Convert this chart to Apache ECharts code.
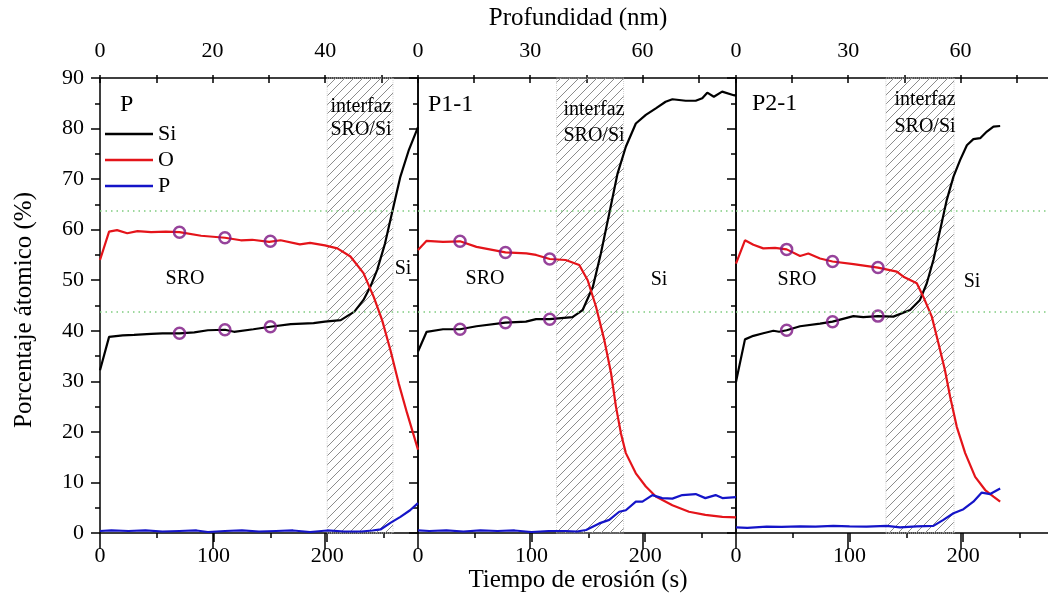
<!DOCTYPE html>
<html><head><meta charset="utf-8">
<script src="https://cdn.jsdelivr.net/npm/echarts@6/dist/echarts.min.js"></script>
<style>html,body{margin:0;padding:0;background:#fff}#c{width:1048px;height:597px}</style>
</head><body><div id="c"></div>
<script>
// ---------------- data ----------------
const panelNames = ['P', 'P1-1', 'P2-1'];
const legendNames = ['Si', 'O', 'P'];
const timeTicks = [0, 100, 200];
const timeMax = 280;
const depthMax = [56.5, 85, 85];
const depthMajor = [20, 30, 30];
const depthMinor = [10, 15, 15];
const hatchRanges = [[200, 258], [122, 181], [132, 192]];
const refLevels = [63.7, 43.8];

// Panel P
const p1SiT = [0, 8, 20, 30, 45, 55, 70, 83, 95, 110, 118, 135, 150, 168, 188, 198, 212, 224, 232, 238, 244, 251, 257, 264.5, 272, 280];
const p1Si  = [32.2, 38.8, 39.1, 39.2, 39.4, 39.5, 39.5, 39.7, 40.1, 40.2, 39.8, 40.3, 40.8, 41.3, 41.5, 41.8, 42.1, 43.8, 46.1, 48.7, 52.0, 57.3, 63.2, 70.5, 75.8, 80.3];
const p1OT  = [0, 8, 15, 24, 33, 45, 58, 70, 89, 110, 124, 134, 149, 159, 176, 185, 198, 209, 220.5, 232, 241, 248.4, 255.7, 263, 270.4, 280];
const p1O   = [54.0, 59.6, 59.9, 59.3, 59.7, 59.5, 59.6, 59.5, 58.8, 58.4, 57.9, 58.0, 57.6, 57.9, 57.1, 57.4, 56.9, 56.3, 54.7, 51.4, 46.7, 42.1, 36.2, 29.6, 23.7, 16.5];
const p1PT  = [0, 10, 25, 40, 55, 70, 85, 95, 110, 125, 140, 155, 170, 185, 200, 215, 230, 240, 247, 255.7, 264.5, 273, 280];
const p1P   = [0.4, 0.5, 0.4, 0.5, 0.3, 0.4, 0.5, 0.2, 0.4, 0.5, 0.3, 0.4, 0.5, 0.2, 0.5, 0.3, 0.3, 0.5, 0.7, 2.0, 3.2, 4.5, 5.9];
const p1MkT = [70, 110, 150];
const p1MkO = [59.5, 58.4, 57.7];
const p1MkSi = [39.5, 40.2, 40.8];

// Panel P1-1
const p2SiT = [0, 7.6, 22, 37, 51.5, 77, 95, 104, 116, 136, 145, 154, 161, 168.4, 175.7, 183, 191.8, 200.6, 209.4, 218, 224, 235.7, 244.5, 250.3, 254.7, 260.5, 267.8, 278, 280];
const p2Si  = [35.9, 39.8, 40.3, 40.3, 40.9, 41.6, 41.8, 42.3, 42.3, 42.7, 44.1, 48.7, 55.3, 63.2, 71.1, 76.4, 81.0, 82.7, 84.0, 85.3, 85.8, 85.5, 85.5, 86.0, 87.1, 86.3, 87.3, 86.6, 86.5];
const p2OT  = [0, 7.6, 22, 37, 51.5, 77, 95.4, 104, 116, 130, 142, 149.4, 156.7, 164, 170, 174.3, 178.7, 183, 191.8, 200.6, 209.4, 224, 238.6, 253, 268, 280];
const p2O   = [56.0, 57.8, 57.6, 57.7, 56.6, 55.5, 55.3, 55.0, 54.2, 54.0, 53.0, 50.0, 44.8, 38.2, 31.6, 25.0, 19.7, 15.8, 11.8, 9.2, 7.2, 5.5, 4.2, 3.6, 3.2, 3.1];
const p2PT  = [0, 10, 25, 40, 55, 70, 85, 100, 115, 130, 140, 148, 159.6, 168.4, 177.2, 183, 191.8, 197.6, 206.4, 215, 224, 232.7, 244.5, 253, 262, 268, 280];
const p2P   = [0.5, 0.4, 0.5, 0.3, 0.5, 0.4, 0.5, 0.2, 0.4, 0.4, 0.3, 0.6, 1.9, 2.6, 4.2, 4.5, 6.2, 6.2, 7.5, 6.9, 6.8, 7.5, 7.7, 6.9, 7.5, 6.9, 7.1];
const p2MkT = [37, 77, 116];
const p2MkO = [57.7, 55.5, 54.2];
const p2MkSi = [40.3, 41.6, 42.3];

// Panel P2-1
const p3SiT = [0, 7.9, 15.3, 24, 32.9, 38, 44.6, 56.4, 74, 85, 103.4, 112, 125, 138.6, 153.3, 162, 168, 173.8, 179.7, 185.6, 191.5, 197.4, 203.3, 209, 215, 220.9, 226.7, 232.6];
const p3Si  = [29.9, 38.3, 39.0, 39.5, 40.0, 39.8, 40.1, 40.9, 41.4, 41.8, 42.9, 42.7, 42.9, 42.8, 44.1, 46.1, 49.4, 54.0, 59.9, 65.9, 70.5, 73.8, 76.7, 77.9, 78.1, 79.4, 80.4, 80.5];
const p3OT  = [0, 7.9, 15.3, 24, 34.4, 44.6, 56.4, 63.7, 74, 85, 103.4, 125, 141.6, 147.4, 159.2, 165, 172.4, 178.3, 184, 188.5, 194.4, 201.8, 210.6, 219.4, 226.7, 232.6];
const p3O   = [53.3, 57.9, 57.0, 56.3, 56.4, 56.1, 54.8, 55.3, 54.3, 53.7, 53.2, 52.5, 51.7, 50.7, 49.4, 46.7, 42.8, 37.5, 32.2, 27.0, 21.0, 15.8, 11.1, 8.5, 7.2, 6.2];
const p3PT  = [0, 10, 27, 40, 56.4, 70, 85.7, 100, 115, 132.7, 144.5, 159.2, 173.8, 182.6, 191.5, 200.3, 209, 216.4, 223.8, 232.6];
const p3P   = [1.1, 1.0, 1.25, 1.2, 1.3, 1.25, 1.4, 1.3, 1.25, 1.4, 1.1, 1.3, 1.4, 2.6, 3.9, 4.7, 6.2, 8.0, 7.7, 8.8];
const p3MkT = [44.6, 85, 125];
const p3MkO = [56.1, 53.7, 52.5];
const p3MkSi = [40.1, 41.8, 42.9];

// ---------------- layout / style ----------------
const FONT = 'Liberation Serif';
const panelLefts = [100, 418, 736];
const GRID_TOP = 78, GRID_H = 455, GRID_W = 318;
const colors = {Si: '#000000', O: '#e4141a', P: '#1414c8'};
const markColor = '#7c1482';

const zip = (t, v) => t.map((x, i) => [x, v[i]]);
const panels = [
  {Si: zip(p1SiT, p1Si), O: zip(p1OT, p1O), P: zip(p1PT, p1P), mk: zip(p1MkT, p1MkO).concat(zip(p1MkT, p1MkSi))},
  {Si: zip(p2SiT, p2Si), O: zip(p2OT, p2O), P: zip(p2PT, p2P), mk: zip(p2MkT, p2MkO).concat(zip(p2MkT, p2MkSi))},
  {Si: zip(p3SiT, p3Si), O: zip(p3OT, p3O), P: zip(p3PT, p3P), mk: zip(p3MkT, p3MkO).concat(zip(p3MkT, p3MkSi))}
];

// hatch pattern
const pc = document.createElement('canvas');
pc.width = 9; pc.height = 9;
const ctx = pc.getContext('2d');
ctx.strokeStyle = '#8c8c8c'; ctx.lineWidth = 1;
ctx.beginPath();
ctx.moveTo(0, 9); ctx.lineTo(9, 0);
ctx.moveTo(-1, 1); ctx.lineTo(1, -1);
ctx.moveTo(8, 10); ctx.lineTo(10, 8);
ctx.stroke();

const black = {color: '#000', width: 1.5};
const lbl = {fontFamily: FONT, fontSize: 22, color: '#000'};
const grid = [], xAxis = [], yAxis = [], series = [];

panels.forEach((p, k) => {
  const gA = grid.length;
  grid.push({left: panelLefts[k], top: GRID_TOP, width: GRID_W, height: GRID_H, show: true,
    borderColor: '#000', borderWidth: 1.5, backgroundColor: 'rgba(0,0,0,0)', containLabel: false, outerBoundsMode: 'none'});
  const gB = grid.length;
  grid.push({left: panelLefts[k], top: GRID_TOP, width: GRID_W, height: GRID_H, show: false, containLabel: false, outerBoundsMode: 'none'});

  const xMain = xAxis.length;
  xAxis.push({gridIndex: gA, type: 'value', position: 'bottom', min: 0, max: timeMax, interval: timeTicks[1] - timeTicks[0],
    axisLine: {show: false}, axisTick: {show: true, inside: false, length: 9, lineStyle: black},
    axisLabel: Object.assign({show: true, margin: 12, showMaxLabel: false}, lbl), splitLine: {show: false}});
  xAxis.push({gridIndex: gA, type: 'value', position: 'top', offset: 8, min: 0, max: depthMax[k], interval: depthMajor[k],
    axisLine: {show: false}, axisTick: {show: true, inside: true, length: 16, lineStyle: black},
    axisLabel: Object.assign({show: true, margin: 8, showMaxLabel: false}, lbl), splitLine: {show: false}});
  xAxis.push({gridIndex: gB, type: 'value', position: 'bottom', min: 0, max: timeMax, interval: 50,
    axisLine: {show: false}, axisTick: {show: true, inside: false, length: 5, lineStyle: black},
    axisLabel: {show: false}, splitLine: {show: false}});
  xAxis.push({gridIndex: gB, type: 'value', position: 'top', offset: 3, min: 0, max: depthMax[k], interval: depthMinor[k],
    axisLine: {show: false}, axisTick: {show: true, inside: true, length: 8, lineStyle: black},
    axisLabel: {show: false}, splitLine: {show: false}});

  const yMain = yAxis.length;
  yAxis.push({gridIndex: gA, type: 'value', position: 'left', min: 0, max: 90, interval: 10,
    axisLine: {show: false}, axisTick: {show: true, inside: false, length: 9, lineStyle: black},
    minorTick: {show: true, splitNumber: 2, length: 5, lineStyle: black},
    axisLabel: Object.assign({show: k === 0, margin: 16}, lbl), splitLine: {show: false}});
  yAxis.push({gridIndex: gA, type: 'value', position: 'right', min: 0, max: 90, interval: 10,
    axisLine: {show: false}, axisTick: {show: true, inside: true, length: 9, lineStyle: black},
    minorTick: {show: true, splitNumber: 2, length: 5, lineStyle: black},
    axisLabel: {show: false}, splitLine: {show: false}});
  yAxis.push({gridIndex: gB, type: 'value', show: false, min: 0, max: 90});

  series.push({type: 'scatter', xAxisIndex: xMain, yAxisIndex: yMain, data: [], z: 1, silent: true,
    markArea: {silent: true, itemStyle: {color: {image: pc, repeat: 'repeat'}, borderColor: '#d0d0d0', borderWidth: 1, borderType: 'dotted'},
      data: [[{xAxis: hatchRanges[k][0]}, {xAxis: hatchRanges[k][1]}]]},
    markLine: {silent: true, symbol: 'none', label: {show: false},
      lineStyle: {color: '#7fcc7f', width: 1.5, type: [1.5, 4]},
      data: refLevels.map(v => ({yAxis: v}))}
  });
  legendNames.forEach(el => {
    series.push({type: 'line', name: el, xAxisIndex: xMain, yAxisIndex: yMain, data: p[el],
      symbol: 'none', showSymbol: false, smooth: false, z: 3, silent: true,
      lineStyle: {color: colors[el], width: 2.2}, itemStyle: {color: colors[el]}});
  });
  series.push({type: 'scatter', name: 'mk', xAxisIndex: xMain, yAxisIndex: yMain, data: p.mk, z: 4, silent: true,
    symbol: 'circle', symbolSize: 11,
    itemStyle: {color: 'rgba(0,0,0,0)', borderColor: markColor, borderWidth: 2.5}});
});

const txt = (text, x, y, size, align, extra) => Object.assign({type: 'text', x: x, y: y, z: 20, silent: true,
  style: {text: text, fontFamily: FONT, fontSize: size, fill: '#000', align: align || 'center', verticalAlign: 'middle'}}, extra || {});

const graphic = [
  txt('Profundidad (nm)', 578, 18, 25),
  txt('Tiempo de erosión (s)', 578, 580, 25),
  txt('Porcentaje átomico (%)', 24, 310, 25, 'center', {rotation: Math.PI / 2}),
  txt(panelNames[0], 120, 105, 24, 'left'),
  txt(panelNames[1], 428, 105, 24, 'left'),
  txt(panelNames[2], 752, 104, 24, 'left'),
  txt('interfaz', 361, 107, 20), txt('SRO/Si', 361, 130, 20),
  txt('interfaz', 594, 110, 20), txt('SRO/Si', 594, 136, 20),
  txt('interfaz', 925, 100, 20), txt('SRO/Si', 925, 127, 20),
  txt('SRO', 185, 279, 20), txt('Si', 403, 269, 20),
  txt('SRO', 485, 279, 20), txt('Si', 659, 280, 20),
  txt('SRO', 797, 280, 20), txt('Si', 972, 282, 20)
];

const chart = echarts.init(document.getElementById('c'), null, {renderer: 'canvas'});
chart.setOption({
  animation: false,
  backgroundColor: '#fff',
  grid: grid, xAxis: xAxis, yAxis: yAxis, series: series,
  legend: {data: legendNames.map(n => ({name: n, icon: 'rect'})), orient: 'vertical', left: 105, top: 121, padding: 0, itemGap: 0,
    itemWidth: 48, itemHeight: 2.5, selectedMode: false,
    textStyle: {fontFamily: FONT, fontSize: 22, color: '#000', lineHeight: 26}},
  graphic: graphic
});
</script></body></html>
